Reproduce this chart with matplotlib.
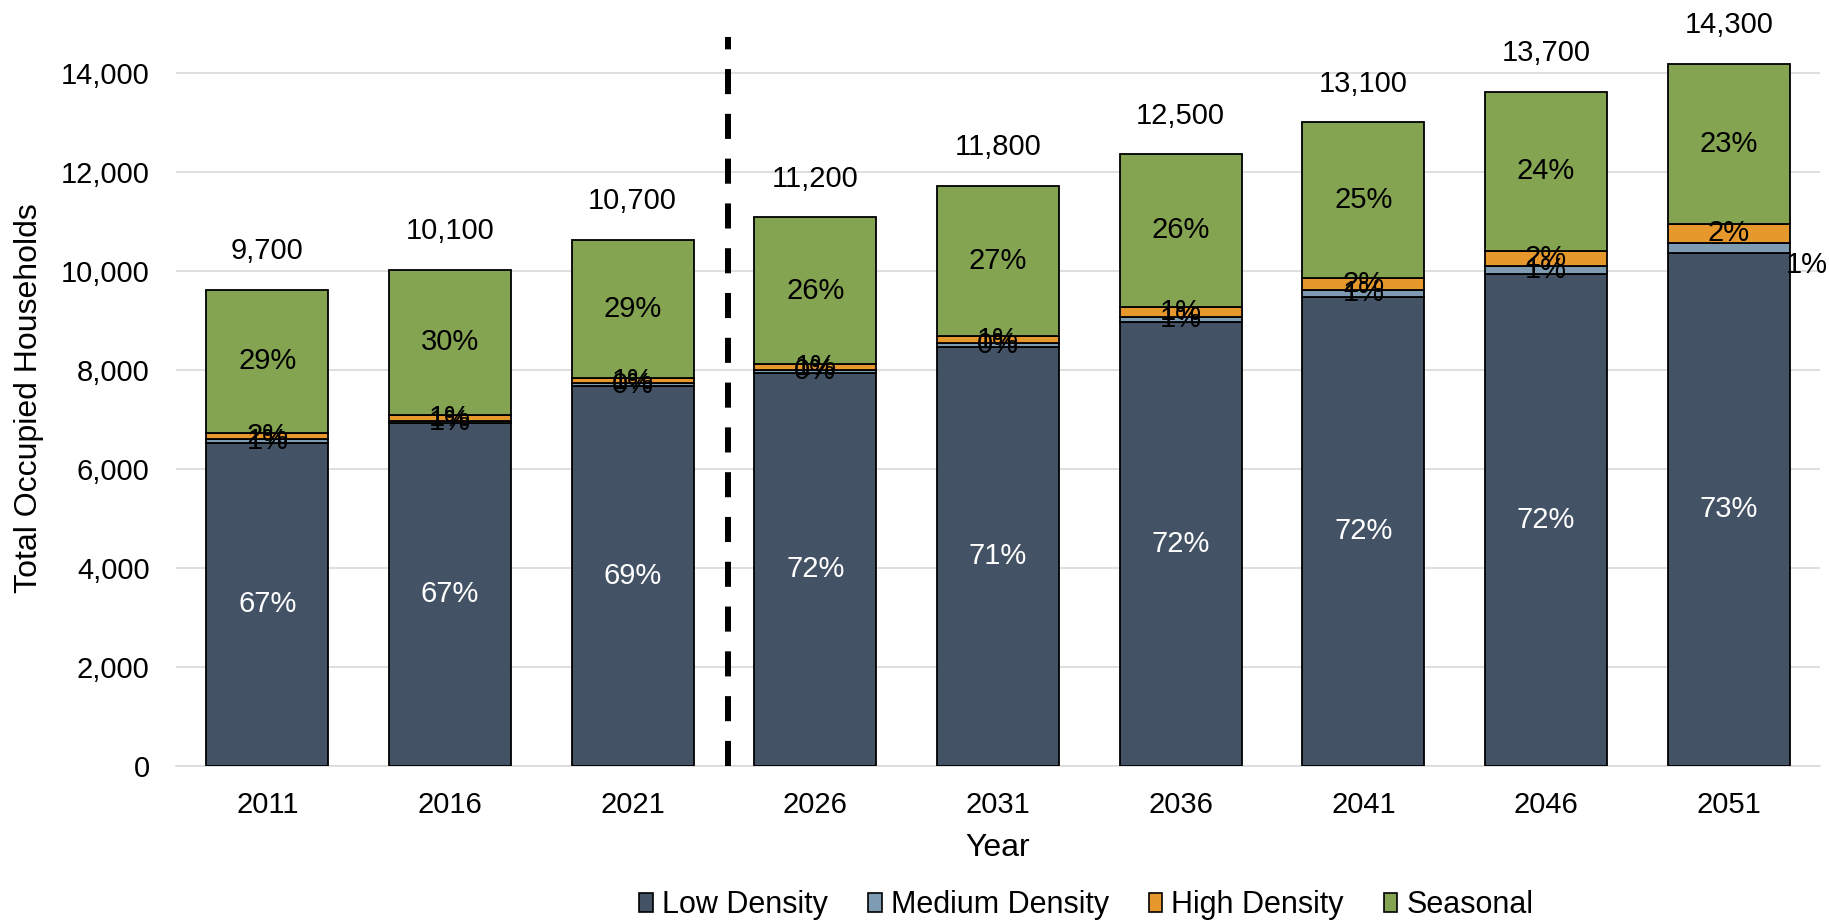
import matplotlib
matplotlib.use("Agg")
import matplotlib.pyplot as plt
from matplotlib.patches import Patch
from matplotlib.ticker import FuncFormatter
import numpy as np

plt.rcParams["font.family"] = ["Liberation Sans", "DejaVu Sans"]

years = ["2011", "2016", "2021", "2026", "2031", "2036", "2041", "2046", "2051"]

# households by housing type
low_density = [6520, 6925, 7680, 7940, 8475, 8980, 9485, 9935, 10360]
medium_density = [80, 45, 50, 60, 65, 100, 135, 170, 215]
high_density = [135, 120, 115, 115, 150, 200, 230, 310, 370]
seasonal = [2885, 2935, 2785, 2975, 3035, 3085, 3160, 3205, 3250]

# rounded totals and shares shown as labels
totals = [9700, 10100, 10700, 11200, 11800, 12500, 13100, 13700, 14300]
low_pct = [67, 67, 69, 72, 71, 72, 72, 72, 73]
medium_pct = [1, 1, 0, 0, 0, 1, 1, 1, 1]
high_pct = [2, 1, 1, 1, 1, 1, 2, 2, 2]
seasonal_pct = [29, 30, 29, 26, 27, 26, 25, 24, 23]

series = [
    ("Low Density", low_density, low_pct, "#435265", "white"),
    ("Medium Density", medium_density, medium_pct, "#7F9BB1", "black"),
    ("High Density", high_density, high_pct, "#E7982D", "black"),
    ("Seasonal", seasonal, seasonal_pct, "#84A452", "black"),
]

FS = 21
TITLE_FS = 23

fig = plt.figure(figsize=(18.29, 9.23), dpi=100)
ax = fig.add_axes([0.0962, 0.1704, 0.8989, 0.8296])

x = np.arange(len(years))
bottom = np.zeros(len(years))
handles = []
for name, values, pct, color, text_color in series:
    values = np.array(values, dtype=float)
    ax.bar(x, values, 0.668, bottom=bottom, color=color, edgecolor="black",
           linewidth=1.3, zorder=3)
    for i in range(len(years)):
        yc = bottom[i] + values[i] / 2
        if name == "Medium Density" and i == len(years) - 1:
            # last label sits beside the bar
            ax.annotate(f"{pct[i]}%", (x[i], yc), xytext=(78 / 1.389, -17 / 1.389),
                        textcoords="offset points", ha="center", va="center",
                        fontsize=FS, color=text_color, zorder=5)
        else:
            ax.text(x[i], yc, f"{pct[i]}%", ha="center", va="center",
                    fontsize=FS, color=text_color, zorder=5)
    bottom += values
    handles.append(Patch(facecolor=color, edgecolor="black", linewidth=1.2, label=name))

for i in range(len(years)):
    ax.annotate(f"{totals[i]:,}", (x[i], bottom[i]), xytext=(0, 22),
                textcoords="offset points", ha="center", va="baseline",
                fontsize=FS, zorder=5)

# split between observed and projected years
ax.plot([2.52, 2.52], [0, 14730], color="black", linewidth=4.3,
        dashes=(4.2, 3.3), solid_capstyle="butt", dash_capstyle="butt", zorder=4)

ax.set_xlim(-0.5, len(years) - 0.5)
ax.set_ylim(0, 15480)
ax.set_yticks(np.arange(0, 14001, 2000))
ax.yaxis.set_major_formatter(FuncFormatter(lambda v, p: f"{int(v):,}"))
ax.set_xticks(x)
ax.set_xticklabels(years)
ax.tick_params(axis="both", length=0, labelsize=FS)
ax.tick_params(axis="x", pad=18.5)
ax.tick_params(axis="y", pad=19)
ax.grid(axis="y", color="#D9D9D9", linewidth=1.2, zorder=0)
ax.set_axisbelow(True)
for side in ["top", "right", "left"]:
    ax.spines[side].set_visible(False)
ax.spines["bottom"].set_color("#D9D9D9")
ax.spines["bottom"].set_linewidth(1.2)

ax.set_xlabel("Year", fontsize=TITLE_FS, labelpad=10)
fig.text(29 / 1829, 1 - 398 / 923, "Total Occupied Households", rotation=90,
         ha="center", va="center", fontsize=TITLE_FS)

fig.legend(handles=handles, loc="center", bbox_to_anchor=(0.594, 0.019),
           ncol=4, frameon=False, fontsize=22, handlelength=0.45, handleheight=0.6,
           handletextpad=0.3, columnspacing=1.3)

fig.savefig("out.png", dpi=100)
